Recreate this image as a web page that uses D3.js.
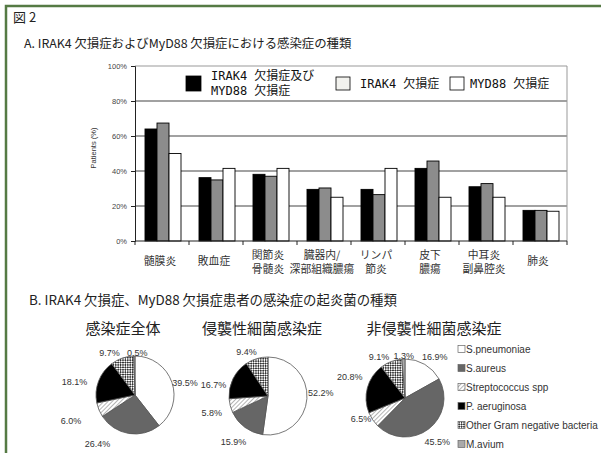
<!DOCTYPE html>
<html>
<head>
<meta charset="utf-8">
<title>図 2</title>
<script src="https://cdn.jsdelivr.net/npm/d3@7/dist/d3.min.js"></script>
<style>
html,body{margin:0;padding:0;background:#fff;}
svg{display:block;}
.jp{font-family:"Noto Sans CJK JP","Noto Sans",sans-serif;}
.ar{font-family:"Liberation Sans",Arial,sans-serif;}
</style>
</head>
<body>
<script>
// ---- data (A: bar chart) ----
var categories=["髄膜炎","敗血症","関節炎\n骨髄炎","臓器内/\n深部組織膿瘍","リンパ\n節炎","皮下\n膿瘍","中耳炎\n副鼻腔炎","肺炎"];
var seriesNames=["IRAK4 欠損症及び\nMYD88 欠損症","IRAK4 欠損症","MYD88 欠損症"];
var bothDef=[64,36.2,38.1,29.5,29.5,41.5,31,17.5];
var irak4Def=[67.4,34.9,37,30.3,26.5,45.7,32.8,17.5];
var myd88Def=[50,41.5,41.5,25,41.5,25,25,17];
var yTicks=[0,20,40,60,80,100];

// ---- data (B: pies) ----
var organisms=["S.pneumoniae","S.aureus","Streptococcus spp","P. aeruginosa","Other Gram negative bacteria","M.avium"];
var pieTitles=["感染症全体","侵襲性細菌感染症","非侵襲性細菌感染症"];
var allInf=[39.5,26.4,6.0,18.1,9.7,0.5];
var invasive=[52.2,15.9,5.8,16.7,9.4,0];
var nonInvasive=[16.9,45.5,6.5,20.8,9.1,1.3];

var W=601,H=453;
var svg=d3.select("body").append("svg").attr("width",W).attr("height",H);

// patterns
var defs=svg.append("defs");
var hatch=defs.append("pattern").attr("id","hatch").attr("patternUnits","userSpaceOnUse")
	.attr("width",3).attr("height",3).attr("patternTransform","rotate(45)");
hatch.append("rect").attr("width",3).attr("height",3).attr("fill","#fff");
hatch.append("line").attr("x1",0).attr("y1",0).attr("x2",0).attr("y2",3).attr("stroke","#777").attr("stroke-width",1.1);
var check=defs.append("pattern").attr("id","check").attr("patternUnits","userSpaceOnUse")
	.attr("width",3.4).attr("height",3.4).attr("patternTransform","rotate(45)");
check.append("rect").attr("width",3.4).attr("height",3.4).attr("fill","#fff");
check.append("rect").attr("width",1.7).attr("height",1.7).attr("fill","#333");
check.append("rect").attr("x",1.7).attr("y",1.7).attr("width",1.7).attr("height",1.7).attr("fill","#333");

// green frame
svg.append("path").attr("d","M6,"+H+" L6,6 L"+W+",6").attr("fill","none").attr("stroke","#557a44").attr("stroke-width",2.5);

// titles
svg.append("text").attr("class","jp").attr("x",13).attr("y",22).attr("font-size",13).attr("fill","#222").text("図 2");
svg.append("text").attr("class","jp").attr("x",24).attr("y",48).attr("font-size",12.4).attr("fill","#222")
	.text("A. IRAK4 欠損症およびMyD88 欠損症における感染症の種類");
svg.append("text").attr("class","jp").attr("x",29).attr("y",305).attr("font-size",13.4).attr("fill","#222")
	.text("B. IRAK4 欠損症、MyD88 欠損症患者の感染症の起炎菌の種類");

// ---- bar chart ----
var x=d3.scaleBand().domain(categories).range([135,567]).padding(0);
var xs=d3.scaleBand().domain([0,1,2]).range([10,46]).padding(0);
var y=d3.scaleLinear().domain([0,100]).range([241,66]);
var series=[bothDef,irak4Def,myd88Def];
var barFill=["#000","#8c8c8c","#fff"];

var g=svg.append("g");
// grid
g.selectAll(".grid").data(yTicks.filter(function(d){return d>0&&d<100;})).enter().append("line")
	.attr("x1",135).attr("x2",567).attr("y1",function(d){return y(d);}).attr("y2",function(d){return y(d);})
	.attr("stroke","#444").attr("stroke-width",1.1);
// frame top/right
g.append("path").attr("d","M135,"+y(100)+" L567,"+y(100)+" L567,"+y(0))
	.attr("fill","none").attr("stroke","#999").attr("stroke-width",1);

series.forEach(function(vals,si){
	g.selectAll(".bar"+si).data(vals).enter().append("rect")
	.attr("x",function(d,i){return x(categories[i])+xs(si);})
	.attr("y",function(d){return y(d);})
	.attr("width",xs.bandwidth())
	.attr("height",function(d){return y(0)-y(d);})
	.attr("fill",barFill[si]).attr("stroke","#000").attr("stroke-width",0.9);
});

var yAxis=d3.axisLeft(y).tickValues(yTicks).tickSize(4).tickFormat(function(d){return d+"%";});
g.append("g").attr("transform","translate(135,0)").call(yAxis)
	.call(function(s){s.select(".domain").attr("stroke","#222");
		s.selectAll("line").attr("stroke","#222");
		s.selectAll("text").attr("class","ar").attr("font-size",7.5).attr("fill","#444").attr("dx",-1);});

// x axis baseline + boundary ticks
g.append("line").attr("x1",135).attr("x2",567).attr("y1",y(0)).attr("y2",y(0)).attr("stroke","#222");
var bounds=categories.map(function(c){return x(c);}).concat([x.range()[1]]);
g.selectAll(".xt").data(bounds).enter().append("line")
	.attr("x1",function(d){return d;}).attr("x2",function(d){return d;})
	.attr("y1",y(0)).attr("y2",y(0)+4).attr("stroke","#222");

// category labels
categories.forEach(function(c){
	var lines=c.split("\n");
	var t=g.append("text").attr("class","jp").attr("font-size",10.8).attr("fill","#333").attr("text-anchor","middle");
	lines.forEach(function(l,li){
		var yy=lines.length==1?265:259+li*13.5;
		t.append("tspan").attr("x",x(c)+x.bandwidth()/2-2).attr("y",yy).text(l);
	});
});

g.append("text").attr("class","ar").attr("font-size",7.5).attr("fill","#333").attr("text-anchor","middle")
	.attr("transform","translate(96,148) rotate(-90)").text("Patients (%)");

// bar legend
var legX=[186,336,450];
var legFill=["#000","#f2f2ee","#fff"];
var legTextX=[211,360,470];
seriesNames.forEach(function(n,i){
	g.append("rect").attr("x",legX[i]).attr("y",i==0?76:77).attr("width",i==0?15:14).attr("height",i==0?15:13)
		.attr("fill",legFill[i]).attr("stroke","#000").attr("stroke-width",0.8);
	var lines=n.split("\n");
	var t=g.append("text").attr("font-family","'DejaVu Sans Mono','Noto Sans CJK JP',monospace").attr("font-size",12).attr("fill","#111");
	lines.forEach(function(l,li){
		var yy=lines.length==1?88:80+li*14.5;
		t.append("tspan").attr("x",legTextX[i]).attr("y",yy).text(l);
	});
});

// ---- pies ----
var pieFill=["#fff","#666","url(#hatch)","#000","url(#check)","#aaa"];
var pieCenters=[[135,395],[268,396],[405,398]];
var titleX=[123,262,434];
var r=39;
var pieData=[allInf,invasive,nonInvasive];
var labelNudge=[
	[[0,5],[-29,-3],[-15,6],[-11,6],[-8,8],[3,11]],
	[[0,-7],[-3,3],[-5,4],[-7,12],[-6,7],[0,0]],
	[[3,5],[0,2],[0,-9],[-4,-7],[-7,8],[1,11]]
];
var pie=d3.pie().sort(null).value(function(d){return d;});
var arc=d3.arc().innerRadius(0).outerRadius(r);
var labArc=d3.arc().innerRadius(r+14).outerRadius(r+14);

pieData.forEach(function(vals,pi){
	var pg=svg.append("g").attr("transform","translate("+pieCenters[pi][0]+","+pieCenters[pi][1]+")");
	svg.append("text").attr("class","jp").attr("x",titleX[pi]).attr("y",334).attr("text-anchor","middle")
		.attr("font-size",15).attr("fill","#222").text(pieTitles[pi]);
	var arcs=pie(vals);
	pg.selectAll("path").data(arcs.filter(function(a){return a.data>0;})).enter().append("path")
		.attr("d",arc).attr("fill",function(a){return pieFill[a.index];})
		.attr("stroke","#555").attr("stroke-width",0.8);
	pg.selectAll("text").data(arcs.filter(function(a){return a.data>0;})).enter().append("text")
		.attr("class","ar").attr("font-size",9).attr("fill","#333").attr("text-anchor","middle")
		.attr("dominant-baseline","central")
		.attr("x",function(a){return labArc.centroid(a)[0]+labelNudge[pi][a.index][0];})
		.attr("y",function(a){return labArc.centroid(a)[1]+labelNudge[pi][a.index][1];})
		.text(function(a){return a.data.toFixed(1)+"%";});
});

// pie legend
var lg=svg.append("g");
organisms.forEach(function(o,i){
	var yy=349+i*19;
	lg.append("rect").attr("x",458).attr("y",yy-3.5).attr("width",7).attr("height",7)
		.attr("fill",pieFill[i]).attr("stroke","#666").attr("stroke-width",0.7);
	lg.append("text").attr("class","ar").attr("x",466).attr("y",yy).attr("dominant-baseline","central")
		.attr("font-size",10).attr("fill","#333").text(o);
});
</script>
</body>
</html>
